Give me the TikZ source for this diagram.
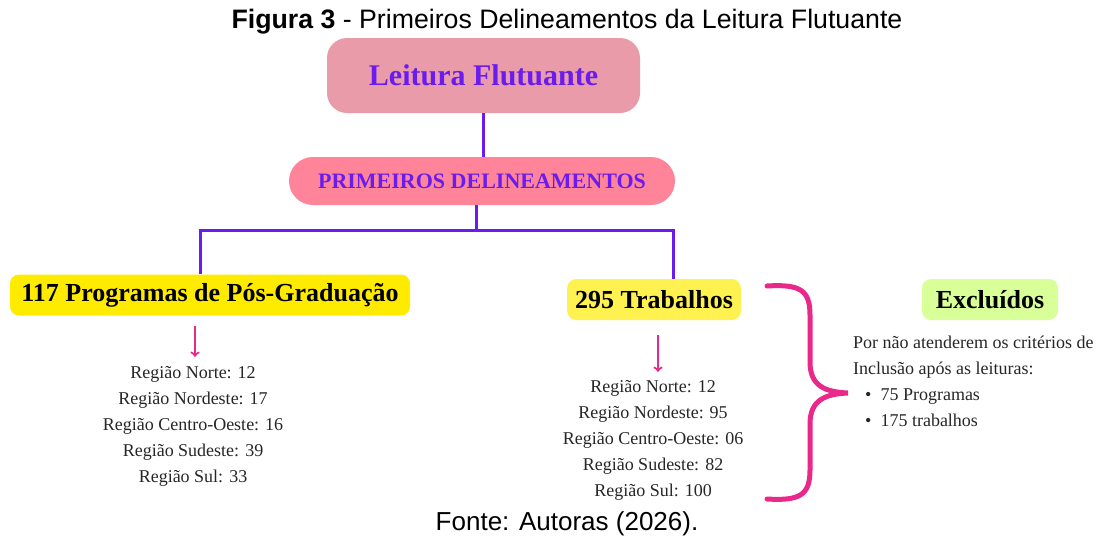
\documentclass[tikz,border=0pt]{standalone}
\usepackage{fontspec}
\setmainfont{Liberation Serif}
\newfontfamily\capfont{Liberation Sans}
\definecolor{boxpurple}{HTML}{6A1CF0}
\definecolor{topbox}{HTML}{EA9BAA}
\definecolor{subbox}{HTML}{FF8399}
\definecolor{yellowA}{HTML}{FFEB00}
\definecolor{yellowB}{HTML}{FFF14F}
\definecolor{greenbox}{HTML}{D9FF99}
\definecolor{bracepink}{HTML}{E8298A}

\begin{document}
\begin{tikzpicture}[x=1pt,y=-1pt,
    topnode/.style={fill=topbox, rounded corners=20pt, minimum width=313pt, minimum height=75pt,
        text=boxpurple, font=\fontsize{30}{36}\selectfont\bfseries},
    subnode/.style={fill=subbox, rounded corners=24pt, minimum width=386pt, minimum height=48pt,
        text=boxpurple, font=\fontsize{22}{26}\selectfont\bfseries},
    countnode/.style={rounded corners=9pt, minimum height=41pt, inner xsep=8pt,
        font=\fontsize{26}{30}\selectfont\bfseries},
    listnode/.style={align=center, inner sep=0pt, font=\fontsize{18}{26}\selectfont, text=black!85},
    treeline/.style={draw=boxpurple, line width=3pt},
    pinkarrow/.style={draw=bracepink, line width=2.2pt, ->}]
        \useasboundingbox (0,0) rectangle (1102,539);

        % Caption and source
        \node[font=\capfont\fontsize{26.7}{30}\selectfont] (caption) at (567,22) {\textbf{Figura 3} - Primeiros Delineamentos da Leitura Flutuante};
        \node[font=\capfont\fontsize{26}{30}\selectfont] (source) at (567,524) {Fonte: Autoras (2026).};

        % Boxes of the tree
        \node[topnode] (leitura) at (483.5,75.5) {Leitura Flutuante};
        \node[subnode] (delin) at (482,181) {PRIMEIROS DELINEAMENTOS};
        \node[countnode, fill=yellowA, minimum width=400pt] (prog) at (210,295) {117 Programas de Pós-Graduação};
        \node[countnode, fill=yellowB, minimum width=168pt] (trab) at (654,299.5) {295 Trabalhos};
        \node[countnode, fill=greenbox, minimum width=136pt] (excl) at (990,299.5) {Excluídos};

        % Draw the tree lines
        \coordinate (fork) at (476,230);
        \draw[treeline] (leitura.south) -- (leitura.south |- delin.north);
        \draw[treeline] (delin.south -| fork) -- (fork);
        \draw[treeline] (fork) -| ([xshift=-10pt]prog.north);
        \draw[treeline] (fork) -| ([xshift=19pt]trab.north);

        % Lists by region
        \node[listnode] (listL) at (193,426) {Região Norte: 12\\Região Nordeste: 17\\Região Centro-Oeste: 16\\Região Sudeste: 39\\Região Sul: 33};
        \node[listnode] (listR) at (653,440) {Região Norte: 12\\Região Nordeste: 95\\Região Centro-Oeste: 06\\Região Sudeste: 82\\Região Sul: 100};
        \coordinate (arrL) at (195,0);
        \coordinate (arrR) at (658,0);
        \draw[pinkarrow] ([yshift=-10pt]prog.south -| arrL) -- ([yshift=9pt]listL.north -| arrL);
        \draw[pinkarrow] ([yshift=-15pt]trab.south -| arrR) -- ([yshift=8pt]listR.north -| arrR);

        % Mark the brace
        \draw[bracepink, line width=5pt, line cap=round] (767,286) .. controls (800,284) and (810,290) .. (810,315)
            -- (810,362) .. controls (810,386) and (825,392) .. (848,393)
            .. controls (825,394) and (810,400) .. (810,424)
            -- (810,470) .. controls (810,495) and (800,501) .. (767,499);

        % Reasons for exclusion
        \node[listnode, align=left, anchor=north west] (reason) at (853,336) {Por não atenderem os critérios de\\Inclusão após as leituras:\\\hspace*{12pt}\textbullet\hspace{9pt}75 Programas\\\hspace*{12pt}\textbullet\hspace{9pt}175 trabalhos};
    \end{tikzpicture}
\end{document}
